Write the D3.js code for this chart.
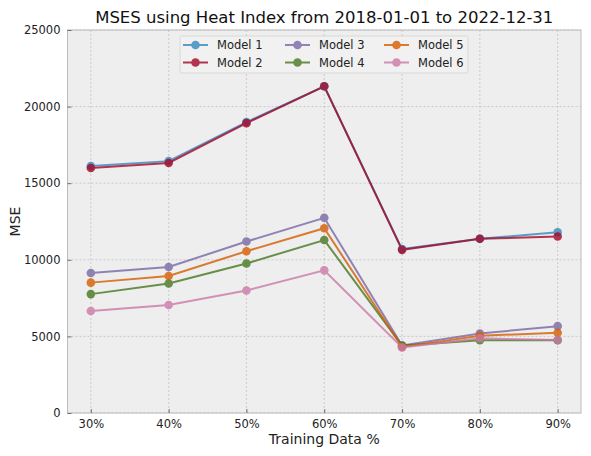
<!DOCTYPE html>
<html><head><meta charset="utf-8">
<script src="https://cdn.jsdelivr.net/npm/d3@7"></script>
<style>body{margin:0;background:#fff;} text{font-family:"DejaVu Sans",sans-serif;}</style>
</head><body>
<script>
const categories = ["30%","40%","50%","60%","70%","80%","90%"];
const xValues = [30,40,50,60,70,80,90];
const model1 = [16120,16440,18990,21330,10700,11370,11800];
const model2 = [15990,16320,18920,21330,10650,11370,11520];
const model3 = [9140,9530,11190,12740,4410,5190,5670];
const model4 = [7760,8450,9760,11290,4400,4750,4750];
const model5 = [8510,8940,10560,12060,4310,5040,5240];
const model6 = [6660,7050,8000,9310,4280,4880,4760];
const seriesNames = ["Model 1","Model 2","Model 3","Model 4","Model 5","Model 6"];
const seriesValues = [model1,model2,model3,model4,model5,model6];
const colors = ["#348ABD","#A60628","#7A68A6","#467821","#D55E00","#CC79A7"];
const yTicks = [0,5000,10000,15000,20000,25000];

const W=591,H=456;
const m={l:67.5,r:10,t:30,b:43};
const svg=d3.select("body").append("svg").attr("width",W).attr("height",H);
const pw=W-m.l-m.r, ph=H-m.t-m.b;
const x=d3.scaleLinear().domain([27,93]).range([m.l,m.l+pw]);
const y=d3.scaleLinear().domain([0,25000]).range([m.t+ph,m.t]);

svg.append("rect").attr("x",m.l).attr("y",m.t).attr("width",pw).attr("height",ph).attr("fill","#eeeeee");
// grid
svg.append("g").selectAll("line").data(xValues).join("line")
  .attr("x1",d=>x(d)).attr("x2",d=>x(d)).attr("y1",m.t).attr("y2",m.t+ph)
  .attr("stroke","#b2b2b2").attr("stroke-width",0.6).attr("stroke-dasharray","2,2");
svg.append("g").selectAll("line").data(yTicks).join("line")
  .attr("x1",m.l).attr("x2",m.l+pw).attr("y1",d=>y(d)).attr("y2",d=>y(d))
  .attr("stroke","#b2b2b2").attr("stroke-width",0.6).attr("stroke-dasharray","2,2");

svg.append("rect").attr("x",m.l).attr("y",m.t).attr("width",pw).attr("height",ph)
  .attr("fill","none").attr("stroke","#bcbcbc").attr("stroke-width",1);

// axes
const xAxis=d3.axisBottom(x).tickValues(xValues).tickFormat((d,i)=>categories[i]).tickSize(-4).tickPadding(7);
const gx=svg.append("g").attr("transform",`translate(0,${m.t+ph})`).call(xAxis);
const yAxis=d3.axisLeft(y).tickValues(yTicks).tickSize(-4).tickPadding(7).tickFormat(d3.format("d"));
const gy=svg.append("g").attr("transform",`translate(${m.l},0)`).call(yAxis);
[gx,gy].forEach(g=>{g.select(".domain").remove();
  g.selectAll(".tick line").attr("stroke","#555").attr("stroke-width",0.8);
  g.selectAll(".tick text").attr("font-size",11.5).attr("fill","#222").style("font-family","DejaVu Sans");});

// lines
const line=d3.line().x((d,i)=>x(xValues[i])).y(d=>y(d));
seriesValues.forEach((vals,k)=>{
  const g=svg.append("g").attr("opacity",0.8);
  g.append("path").datum(vals).attr("d",line).attr("fill","none").attr("stroke",colors[k]).attr("stroke-width",2);
  g.selectAll("circle").data(vals).join("circle").attr("cx",(d,i)=>x(xValues[i])).attr("cy",d=>y(d)).attr("r",4.3).attr("fill",colors[k]);
});

// legend
const lg=svg.append("g");
lg.append("rect").attr("x",180).attr("y",36).attr("width",288).attr("height",37).attr("rx",2)
  .attr("fill","#f2f2f2").attr("stroke","#d0d0d0").attr("stroke-width",0.8).attr("opacity",0.9);
const colX=[183,285,384], rowY=[45,62.5];
seriesNames.forEach((n,k)=>{
  const cx=colX[Math.floor(k/2)], cy=rowY[k%2];
  const g=lg.append("g").attr("opacity",0.8);
  g.append("line").attr("x1",cx).attr("x2",cx+25).attr("y1",cy).attr("y2",cy).attr("stroke",colors[k]).attr("stroke-width",2);
  g.append("circle").attr("cx",cx+12.5).attr("cy",cy).attr("r",4.3).attr("fill",colors[k]);
  lg.append("text").attr("x",cx+34).attr("y",cy+4.3).attr("font-size",11.5).attr("fill","#222").text(n);
});

// titles
svg.append("text").attr("x",m.l+pw/2).attr("y",23).attr("text-anchor","middle").attr("font-size",16.5).attr("fill","#111")
  .text("MSES using Heat Index from 2018-01-01 to 2022-12-31");
svg.append("text").attr("x",m.l+pw/2).attr("y",444).attr("text-anchor","middle").attr("font-size",14).attr("fill","#222").text("Training Data %");
svg.append("text").attr("transform",`translate(20,${m.t+ph/2}) rotate(-90)`).attr("text-anchor","middle").attr("font-size",14).attr("fill","#222").text("MSE");
</script>
</body></html>
